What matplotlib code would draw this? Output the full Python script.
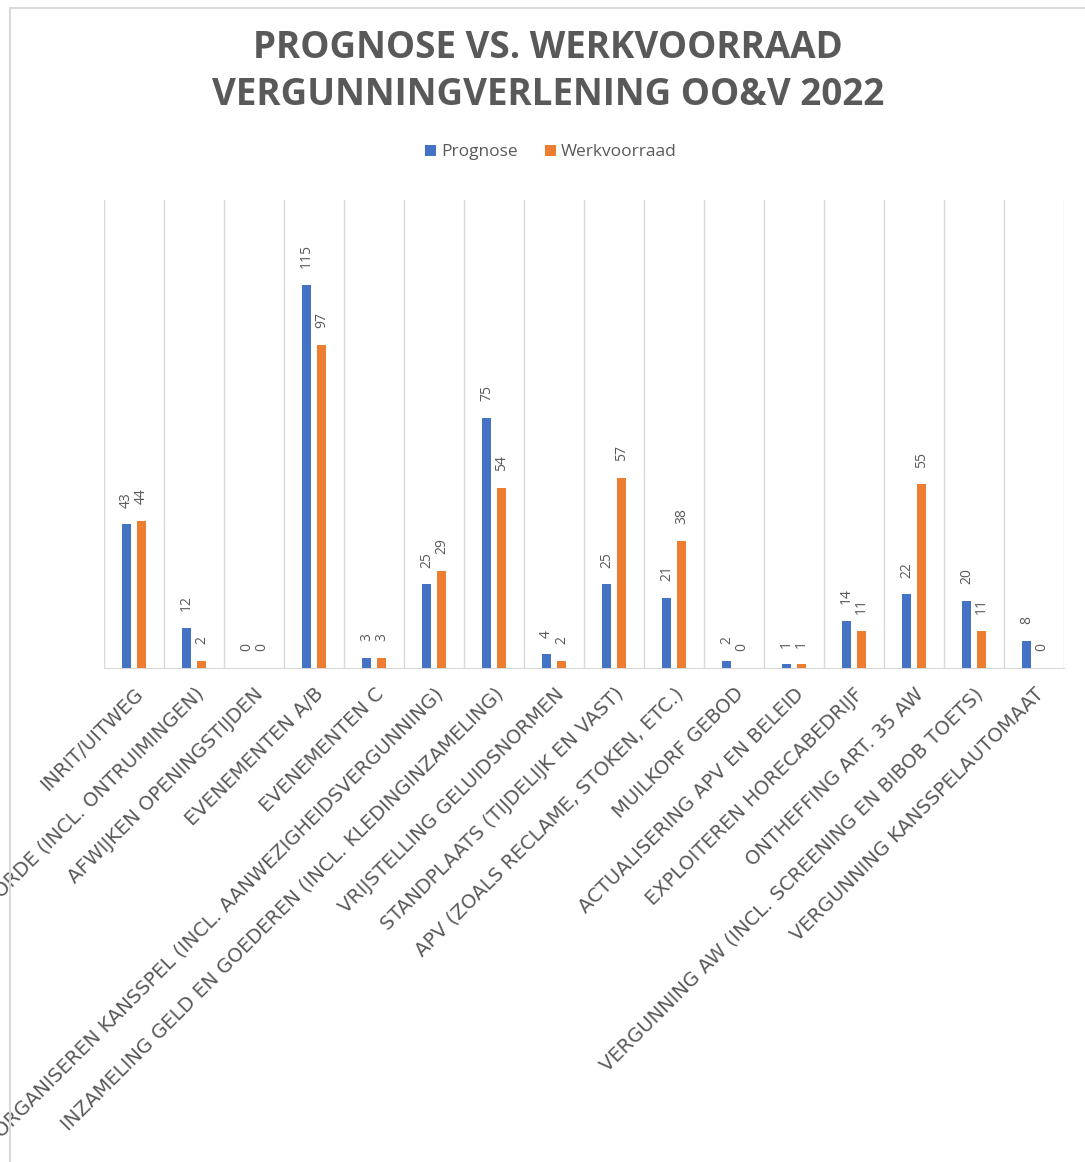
import numpy as np
import matplotlib
matplotlib.use('Agg')
from matplotlib import pyplot as plt
from matplotlib.patches import Rectangle

categories = [
    'INRIT/UITWEG',
    'HANDHAVING OPENBARE ORDE (INCL. ONTRUIMINGEN)',
    'AFWIJKEN OPENINGSTIJDEN',
    'EVENEMENTEN A/B',
    'EVENEMENTEN C',
    'ORGANISEREN KANSSPEL (INCL. AANWEZIGHEIDSVERGUNNING)',
    'INZAMELING GELD EN GOEDEREN (INCL. KLEDINGINZAMELING)',
    'VRIJSTELLING GELUIDSNORMEN',
    'STANDPLAATS (TIJDELIJK EN VAST)',
    'APV (ZOALS RECLAME, STOKEN, ETC.)',
    'MUILKORF GEBOD',
    'ACTUALISERING APV EN BELEID',
    'EXPLOITEREN HORECABEDRIJF',
    'ONTHEFFING ART. 35 AW',
    'VERGUNNING AW (INCL. SCREENING EN BIBOB TOETS)',
    'VERGUNNING KANSSPELAUTOMAAT',
]
prognose = [43, 12, 0, 115, 3, 25, 75, 4, 25, 21, 2, 1, 14, 22, 20, 8]
werkvoorraad = [44, 2, 0, 97, 3, 29, 54, 2, 57, 38, 0, 1, 11, 55, 11, 0]

blue = '#4472C4'
orange = '#ED7D31'
grey = '#595959'
light = '#D9D9D9'

plt.rcParams['font.family'] = ['Open Sans', 'DejaVu Sans']

fig = plt.figure(figsize=(10.85, 11.62), dpi=100)
ax = fig.add_axes([0.0959, 0.4255, 0.8847, 0.4025])

x = np.arange(len(categories))
w = 0.15
off = 0.125
b1 = ax.bar(x - off, prognose, w, color=blue, label='Prognose', zorder=3)
b2 = ax.bar(x + off, werkvoorraad, w, color=orange, label='Werkvoorraad', zorder=3)

for bars in (b1, b2):
    for r in bars:
        ax.annotate(str(int(r.get_height())),
                    (r.get_x() + r.get_width() / 2, r.get_height()),
                    xytext=(0, 12), textcoords='offset points',
                    rotation=90, ha='center', va='bottom',
                    fontsize=10, color=grey)

ax.set_xlim(-0.5, len(categories) - 0.5)
ax.set_ylim(0, 140.5)
ax.set_yticks([])

# vertical separators between categories
for b in np.arange(-0.5, len(categories), 1.0):
    ax.axvline(b, color=light, lw=1, zorder=1)

ax.set_xticks(x)
ax.set_xticklabels(categories, rotation=45, ha='right', rotation_mode='anchor',
                   fontsize=14, color=grey, family=['DejaVu Sans'])
ax.tick_params(axis='x', length=0, pad=12)
for s in ['left', 'right', 'top']:
    ax.spines[s].set_visible(False)
ax.spines['bottom'].set_color(light)

fig.text(0.505, 0.9585, 'PROGNOSE VS. WERKVOORRAAD', ha='center', va='center',
         fontsize=26.5, fontweight='bold', color=grey)
fig.text(0.505, 0.9185, 'VERGUNNINGVERLENING OO&V 2022', ha='center', va='center',
         fontsize=26.5, fontweight='bold', color=grey)

fig.legend(loc='center', bbox_to_anchor=(0.508, 0.869), ncol=2, frameon=False,
           fontsize=12.5, labelcolor=grey, handlelength=0.6, handleheight=0.6,
           handletextpad=0.3, columnspacing=1.6)

# chart border
fig.patches.append(Rectangle((0.009, -0.01), 1.2, 1.003, transform=fig.transFigure,
                             fill=False, edgecolor=light, lw=1.5))

fig.savefig('out.png', dpi=100)
